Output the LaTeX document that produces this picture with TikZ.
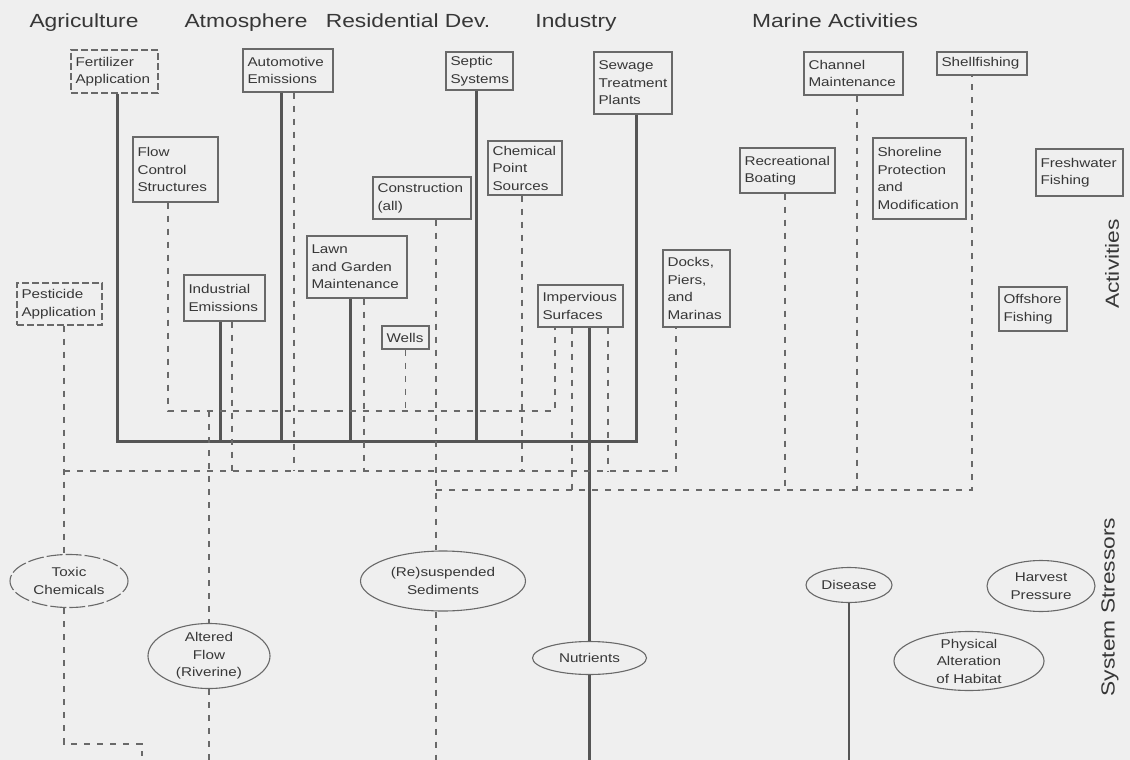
\documentclass[tikz,border=0pt]{standalone}
\usepackage{fontspec}
\setmainfont{Liberation Sans}[FakeStretch=1.2]
\usetikzlibrary{shapes.geometric}
\definecolor{bgc}{RGB}{239,239,239}
\definecolor{txt}{RGB}{55,55,55}
\definecolor{brd}{RGB}{105,105,105}
\definecolor{lnc}{RGB}{85,85,85}
\definecolor{dlc}{RGB}{105,105,105}
\newcommand\mkbox[7][]{%
 \pgfmathsetmacro\bxw{#5-#3}%
 \pgfmathsetmacro\bxh{#6-#4}%
 \pgfmathsetmacro\bxt{#5-#3-9}%
 \pgfmathsetmacro\bxx{(#3+#5)/2}%
 \pgfmathsetmacro\bxy{(#4+#6)/2}%
 \node[boxn,#1,minimum width=\bxw pt,minimum height=\bxh pt,text width=\bxt pt] (#2) at (\bxx,\bxy) {#7};}
\newcommand\mkell[7][]{%
 \node[elln,#1,minimum width=#5pt,minimum height=#6pt] (#2) at (#3,#4) {#7};}
\begin{document}
\begin{tikzpicture}[x=1pt,y=-1pt,
 boxn/.style={draw=brd,line width=1.1pt,rectangle,inner xsep=4.5pt,inner ysep=0pt,align=left,
   font=\fontsize{12.7}{17.5}\selectfont,text=txt},
 dbox/.style={dash pattern=on 7pt off 3pt},
 elln/.style={ellipse,draw=brd,line width=1.1pt,inner xsep=0pt,inner ysep=-4pt,align=center,
   font=\fontsize{12.7}{17.5}\selectfont,text=txt},
 dell/.style={dash pattern=on 16pt off 3pt},
 hdr/.style={font=\fontsize{19}{22}\selectfont,text=txt,anchor=base},
 side/.style={font=\fontsize{19}{22}\selectfont,text=txt,rotate=90},
 bus/.style={draw=lnc,line width=3pt},
 dline/.style={draw=dlc,line width=1.1pt,dash pattern=on 6pt off 7pt},
 thinl/.style={draw=lnc,line width=1.5pt}]
\fill[bgc] (0,0) rectangle (1130,760);
\useasboundingbox (0,0) rectangle (1130,760);
% headers
\node[hdr] (hagr) at (84,28) {Agriculture};
\node[hdr] (hatm) at (246,28) {Atmosphere};
\node[hdr] (hres) at (408,28) {Residential Dev.};
\node[hdr] (hind) at (576,28) {Industry};
\node[hdr] (hmar) at (835,28) {Marine Activities};
\node[side] (sact) at (1112,264) {Activities};
\node[side] (sstr) at (1110,607) {System Stressors};
% activity boxes
\mkbox[dbox]{fert}{71}{50}{158}{93}{Fertilizer\\Application}
\mkbox{auto}{243}{49}{333}{92}{Automotive\\Emissions}
\mkbox{sept}{446}{52}{513}{90}{Septic\\Systems}
\mkbox{sew}{594}{52}{672}{114}{Sewage\\Treatment\\Plants}
\mkbox{chan}{804}{52}{903}{95}{Channel\\Maintenance}
\mkbox{shell}{937}{52}{1027}{75}{Shellfishing}
\mkbox{flow}{133}{137}{218}{202}{Flow\\Control\\Structures}
\mkbox{chem}{488}{141}{562}{195}{Chemical\\Point\\Sources}
\mkbox{cons}{373}{177}{471}{219}{Construction\\(all)}
\mkbox{rec}{740}{148}{835}{193}{Recreational\\Boating}
\mkbox{shore}{873}{138}{966}{219}{Shoreline\\Protection\\and\\Modification}
\mkbox{fresh}{1036}{149}{1123}{196}{Freshwater\\Fishing}
\mkbox{lawn}{307}{236}{407}{298}{Lawn\\and Garden\\Maintenance}
\mkbox[dbox]{pest}{17}{283}{102}{325}{Pesticide\\Application}
\mkbox{ind}{184}{275}{265}{321}{Industrial\\Emissions}
\mkbox{wells}{382}{326}{429}{349}{Wells}
\mkbox{imp}{538}{285}{623}{327}{Impervious\\Surfaces}
\mkbox{docks}{663}{250}{730}{327}{Docks,\\Piers,\\and\\Marinas}
\mkbox{off}{999}{287}{1067}{331}{Offshore\\Fishing}
% stressor ellipses
\mkell[dell]{tox}{69}{581}{118}{53}{Toxic\\Chemicals}
\mkell{alt}{209}{656}{122}{65}{Altered\\Flow\\(Riverine)}
\mkell{sed}{443}{581}{165}{60}{(Re)suspended\\Sediments}
\mkell{nut}{589.5}{658}{114}{33}{Nutrients}
\mkell{dis}{849}{585}{86}{35}{Disease}
\mkell{harv}{1041}{586}{108}{51}{Harvest\\Pressure}
\mkell{phys}{969}{661}{150}{59}{Physical\\Alteration\\of Habitat}
% junction coordinates
\coordinate (busA) at (117,441);
\coordinate (busB) at (636,441);
\coordinate (a1) at (168,411);
\coordinate (a2) at (555,411);
\coordinate (t1) at (64,471);
\coordinate (t2) at (676,471);
\coordinate (t3) at (64,744);
\coordinate (t4) at (142,744);
\coordinate (t5) at (142,756);
\coordinate (s1) at (436,490);
\coordinate (s2) at (972,490);
\coordinate (bot) at (0,760);
% solid nutrient network
\draw[bus] (fert.south -| busA) -- (busA) -- (busB) -- (sew.south -| busB);
\draw[bus] (auto.south -| 281,0) -- (busA -| 281,0);
\draw[bus] (ind.south -| 220,0) -- (busA -| 220,0);
\draw[bus] (lawn.south -| 350,0) -- (busA -| 350,0);
\draw[bus] (sept.south -| 476,0) -- (busA -| 476,0);
\draw[bus] (imp.south -| nut.north) -- (nut.north);
\draw[bus] (nut.south) -- (bot -| nut.south);
% altered flow network
\draw[dline] (flow.south -| a1) -- (a1) -- (a2) -- (imp.south -| a2);
\draw[dline] (wells.south) -- (a1 -| wells.south);
\draw[dline] (a1 -| alt.north) -- (alt.north);
\draw[dline] (alt.south) -- (bot -| alt.south);
% toxic network
\draw[dline] (pest.south -| t1) -- (tox.north -| t1);
\draw[dline] (t1) -- (t2) -- (docks.south -| t2);
\draw[dline] (tox.south -| t1) -- (t3) -- (t4) -- (t5);
\draw[dline] (ind.south -| 232,0) -- (t1 -| 232,0);
\draw[dline] (auto.south -| 294,0) -- (t1 -| 294,0);
\draw[dline] (lawn.south -| 364,0) -- (t1 -| 364,0);
\draw[dline] (chem.south -| 522,0) -- (t1 -| 522,0);
\draw[dline] (imp.south -| 608,0) -- (t1 -| 608,0);
% sediment network
\draw[dline] (cons.south -| s1) -- (sed.north -| s1);
\draw[dline] (s1) -- (s2) -- (shell.south -| s2);
\draw[dline] (rec.south -| 785,0) -- (s1 -| 785,0);
\draw[dline] (chan.south -| 857,0) -- (s1 -| 857,0);
\draw[dline] (imp.south -| 572,0) -- (s1 -| 572,0);
\draw[dline] (sed.south -| s1) -- (bot -| s1);
% disease
\draw[thinl] (dis.south) -- (bot -| dis.south);
\end{tikzpicture}
\end{document}
